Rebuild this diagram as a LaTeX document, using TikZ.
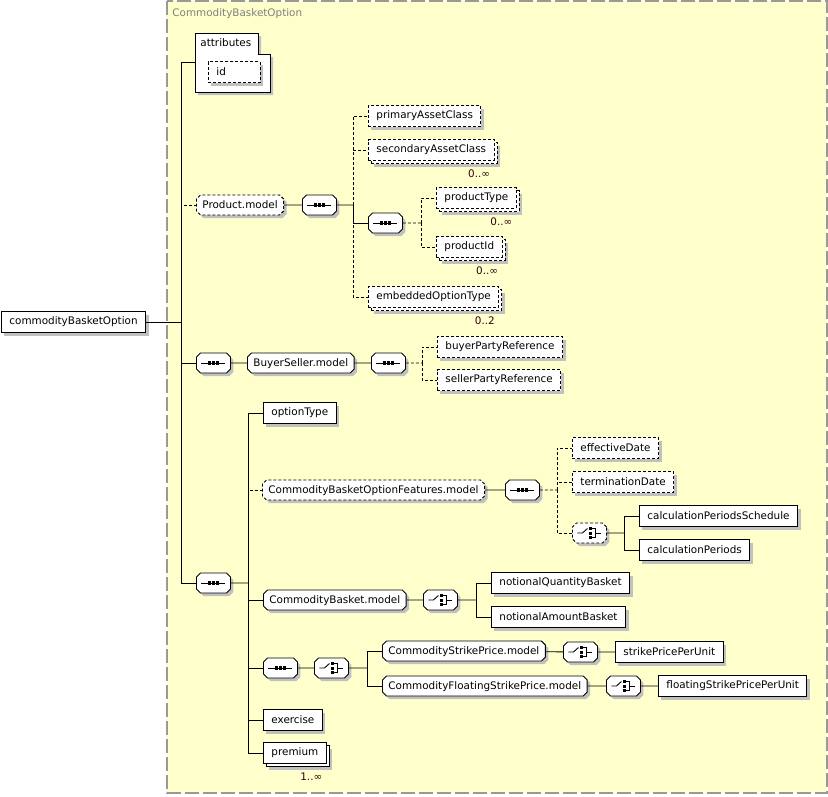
\documentclass[tikz,border=0pt]{standalone}
\usepackage{fontspec}
\setmainfont{DejaVu Sans}
\usetikzlibrary{shapes.misc,shadows,positioning}
\definecolor{bgyellow}{HTML}{FFFFCC}
\definecolor{shgray}{HTML}{C0C0C0}
\definecolor{framegray}{HTML}{999999}
\definecolor{occtext}{HTML}{300010}
\newcommand{\diafont}{\fontsize{10.4}{12}\selectfont}
\tikzset{
  shd/.style={drop shadow={shadow xshift=3pt,shadow yshift=-3pt,fill=shgray,opacity=1}},
  el/.style={draw, fill=white, shd, anchor=west, minimum height=21pt, inner xsep=8pt, inner ysep=0pt, font=\diafont},
  optel/.style={el, opt},
  many/.style={drop shadow={shadow xshift=6pt,shadow yshift=-6pt,fill=shgray,opacity=1},
               copy shadow={shadow xshift=3pt,shadow yshift=-3pt,draw=black,fill=white}},
  optmany/.style={drop shadow={shadow xshift=6pt,shadow yshift=-6pt,fill=shgray,opacity=1},
               copy shadow={shadow xshift=3pt,shadow yshift=-3pt,draw=black,fill=white,opt}},
  grp/.style={draw, fill=white, shd, anchor=west, chamfered rectangle,
              chamfered rectangle xsep=2pt, chamfered rectangle ysep=2pt,
              inner xsep=4pt, inner ysep=3pt, text height=8pt, text depth=2pt, font=\diafont},
  optgrp/.style={grp, opt},
  symbox/.style={draw, fill=white, shd, anchor=west, chamfered rectangle,
                 chamfered rectangle xsep=2pt, chamfered rectangle ysep=2pt,
                 text width=24pt, text height=8pt, text depth=2pt, inner xsep=3pt, inner ysep=3pt},
  seqsym/.style={symbox, path picture={
      \draw[solid, black] ([xshift=-12pt]path picture bounding box.center) -- ([xshift=12pt]path picture bounding box.center);
      \foreach \dx in {-4,0,4}
        \fill[black] ([xshift=\dx pt]path picture bounding box.center) +(-1.6pt,-1.6pt) rectangle +(1.6pt,1.6pt);}},
  choicesym/.style={symbox, path picture={
      \draw[solid, black] (path picture bounding box.center) ++(-12pt,0pt) -- ++(5pt,0pt) -- ++(5pt,4.5pt);
      \foreach \dy in {-4.5,0,4.5}
        \fill[black] ([xshift=1pt,yshift=\dy pt]path picture bounding box.center) +(-1.5pt,-1.5pt) rectangle +(1.5pt,1.5pt);
      \draw[solid, black] (path picture bounding box.center) ++(2pt,4.5pt) -- ++(4pt,0pt) -- ++(0pt,-9pt) -- ++(-4pt,0pt);
      \draw[solid, black] (path picture bounding box.center) ++(6pt,0pt) -- ++(6pt,0pt);}},
  occ/.style={font=\diafont, text=occtext, inner sep=0pt, anchor=north east},
  opt/.style={dash pattern=on 3pt off 2pt}
}
\begin{document}
\begin{tikzpicture}[x=1pt,y=-1pt,line width=0.9pt]
\useasboundingbox (0,0) rectangle (828,796);

% CommodityBasketOption frame
\draw[framegray, line width=1.2pt, dash pattern=on 14pt off 4pt, fill=bgyellow] (167,1) rectangle (827,793);
\node[anchor=west, inner sep=0pt, text=gray, font=\diafont] (title) at (172,14) {CommodityBasketOption};

% root element
\node[el] (root) at (1,322) {commodityBasketOption};
\coordinate (t0) at (181,322);

% attributes
\draw[fill=white, shd] (195,33) -- (258,33) -- (258,54) -- (270,54) -- (270,92) -- (195,92) -- cycle;
\node[anchor=west, inner sep=0pt, font=\diafont] (attrT) at (200,43) {attributes};
\coordinate (attr) at (195,62);
\node[optel, text width=36pt] (id) at (208,72) {id};

% Product.model
\node[optgrp] (prod) at (196,205) {Product.model};
\node[seqsym] (seqP) at (302,205) {};
\coordinate (p0) at (353,205);
\node[optel] (prim) at (368,116) {primaryAssetClass};
\node[optel, optmany] (sec) at (368,150) {secondaryAssetClass};
\node[occ] (secOcc) at ([xshift=-4pt,yshift=-8pt]sec.south east) {0..∞};
\node[seqsym] (seqQ) at (368,223) {};
\coordinate (q0) at (421,223);
\node[optel, optmany] (ptype) at (436,198) {productType};
\node[occ] (ptypeOcc) at ([xshift=-4pt,yshift=-8pt]ptype.south east) {0..∞};
\node[optel, optmany] (pid) at (436,247) {productId};
\node[occ] (pidOcc) at ([xshift=-4pt,yshift=-8pt]pid.south east) {0..∞};
\node[optel, optmany] (emb) at (368,297) {embeddedOptionType};
\node[occ] (embOcc) at ([xshift=-4pt,yshift=-8pt]emb.south east) {0..2};

% BuyerSeller.model
\node[seqsym] (seqB) at (196,363) {};
\node[grp] (bsm) at (247,363) {BuyerSeller.model};
\node[seqsym] (seqC) at (371,363) {};
\coordinate (c0) at (422,363);
\node[optel] (buyer) at (437,347) {buyerPartyReference};
\node[optel] (seller) at (437,380) {sellerPartyReference};

% option part
\node[seqsym] (seqD) at (196,583) {};
\coordinate (d0) at (248,583);
\node[el] (otype) at (263,413) {optionType};
\node[optgrp] (feat) at (262,490) {CommodityBasketOptionFeatures.model};
\node[seqsym] (seqE) at (505,490) {};
\coordinate (e0) at (557,490);
\node[optel] (eff) at (572,448) {effectiveDate};
\node[optel] (term) at (572,482) {terminationDate};
\node[choicesym, opt] (chF) at (572,533) {};
\coordinate (f0) at (624,533);
\node[el] (cps) at (639,516) {calculationPeriodsSchedule};
\node[el] (cp) at (639,550) {calculationPeriods};

\node[grp] (cbm) at (263,600) {CommodityBasket.model};
\node[choicesym] (chG) at (423,600) {};
\coordinate (g0) at (476,600);
\node[el] (nqb) at (491,583) {notionalQuantityBasket};
\node[el] (nab) at (491,617) {notionalAmountBasket};

\node[seqsym] (seqH) at (263,668) {};
\node[choicesym] (chH) at (314,668) {};
\coordinate (h0) at (367,668);
\node[grp] (csp) at (382,651) {CommodityStrikePrice.model};
\node[choicesym] (chI) at (563,652) {};
\node[el] (sppu) at (615,652) {strikePricePerUnit};
\node[grp] (cfsp) at (382,686) {CommodityFloatingStrikePrice.model};
\node[choicesym] (chJ) at (606,686) {};
\node[el] (fsppu) at (658,686) {floatingStrikePricePerUnit};

\node[el] (exer) at (263,720) {exercise};
\node[el, many] (prem) at (263,753) {premium};
\node[occ] (premOcc) at ([xshift=-4pt,yshift=-9pt]prem.south east) {1..∞};

% connectors
\draw (root) -- (t0);
\draw (t0) |- (attr);
\draw[opt] (t0) |- (prod.west);
\draw (t0) |- (seqB.west);
\draw (t0) |- (seqD.west);

\draw (prod) -- (seqP);
\draw (seqP) -- (p0);
\draw[opt] (p0) |- (prim.west);
\draw[opt] (p0) |- (sec.west);
\draw[opt] (p0) |- (emb.west);
\draw (p0) |- (seqQ.west);
\draw[opt] (seqQ) -- (q0);
\draw[opt] (q0) |- (ptype.west);
\draw[opt] (q0) |- (pid.west);

\draw (seqB) -- (bsm);
\draw (bsm) -- (seqC);
\draw[opt] (seqC) -- (c0);
\draw[opt] (c0) |- (buyer.west);
\draw[opt] (c0) |- (seller.west);

\draw (seqD) -- (d0);
\draw (d0) |- (otype.west);
\draw[opt] (d0) |- (feat.west);
\draw (d0) |- (cbm.west);
\draw (d0) |- (seqH.west);
\draw (d0) |- (exer.west);
\draw (d0) |- (prem.west);

\draw (feat) -- (seqE);
\draw[opt] (seqE) -- (e0);
\draw[opt] (e0) |- (eff.west);
\draw[opt] (e0) |- (term.west);
\draw[opt] (e0) |- (chF.west);
\draw (chF) -- (f0);
\draw (f0) |- (cps.west);
\draw (f0) |- (cp.west);

\draw (cbm) -- (chG);
\draw (chG) -- (g0);
\draw (g0) |- (nqb.west);
\draw (g0) |- (nab.west);

\draw (seqH) -- (chH);
\draw (chH) -- (h0);
\draw (h0) |- (csp.west);
\draw (h0) |- (cfsp.west);
\draw (csp) -- (chI);
\draw (chI) -- (sppu);
\draw (cfsp) -- (chJ);
\draw (chJ) -- (fsppu);
\end{tikzpicture}
\end{document}
